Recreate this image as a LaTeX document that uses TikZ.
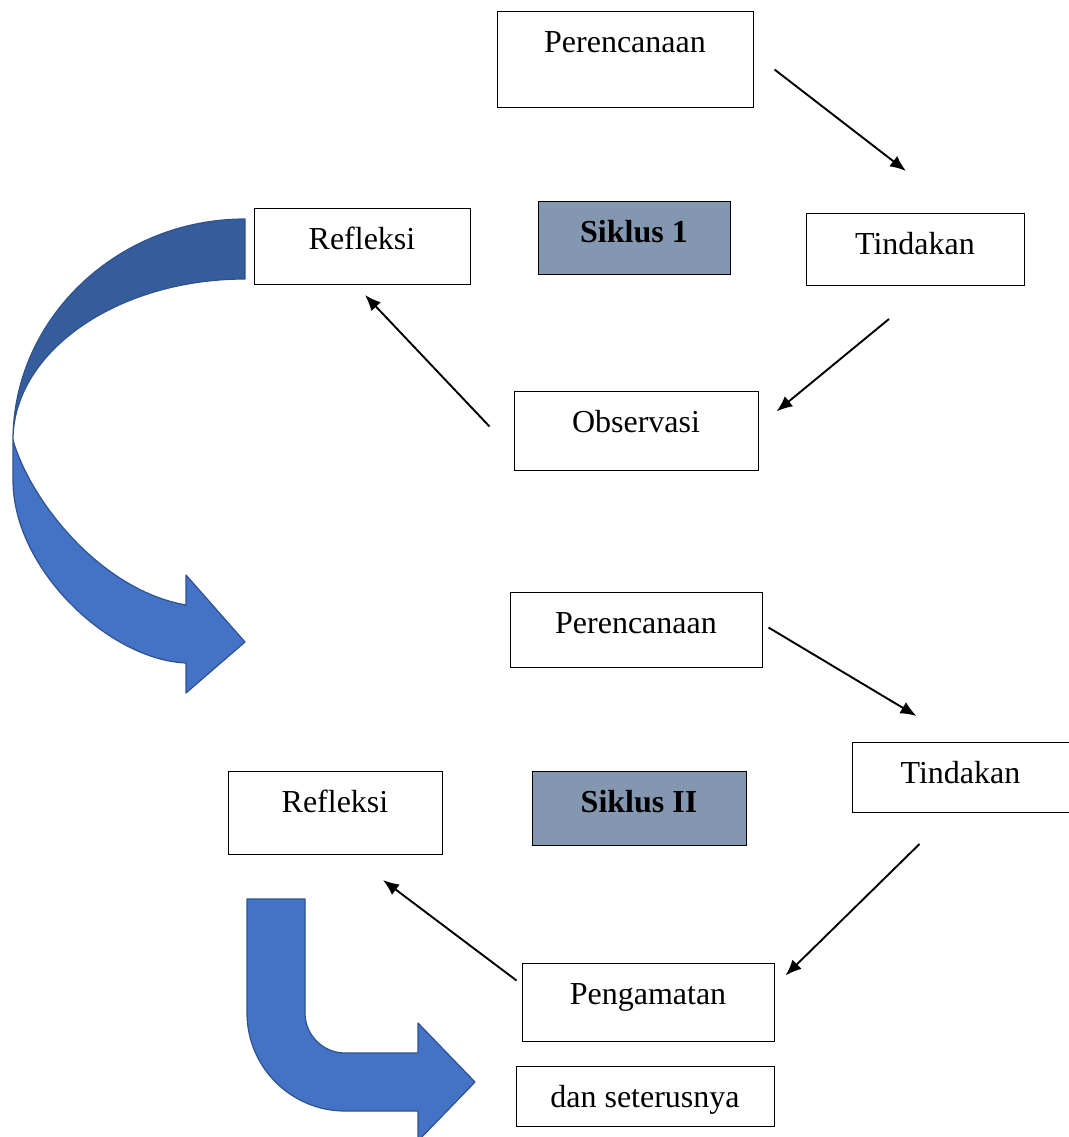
\documentclass[tikz,border=0pt]{standalone}
\usepackage{fontspec}
\setmainfont{Liberation Serif}
\usetikzlibrary{arrows.meta}
\definecolor{siklusgray}{HTML}{8497B0}
\definecolor{bluefront}{HTML}{4472C4}
\definecolor{blueback}{HTML}{355D9B}
\definecolor{blueedge}{HTML}{2F528F}
\tikzstyle{block} = [draw, rectangle, fill=white, line width=1pt, anchor=north, inner xsep=0pt, inner ysep=0pt, text height=41pt, font=\fontsize{32}{38}\selectfont]
\tikzstyle{siklus} = [block, fill=siklusgray, font=\fontsize{32}{38}\selectfont\bfseries]
\tikzstyle{link} = [-{Latex[length=16pt,width=13pt]}, line width=1.9pt]
\tikzstyle{bigarrow} = [draw=blueedge, line width=1.2pt, line join=round]

\begin{document}
\begin{tikzpicture}[x=1pt, y=-1pt]
    \useasboundingbox (0,0) rectangle (1068,1137);

    % siklus 1
    \node [block, minimum width=256pt, text depth=55pt] (plan1) at (625,11) {Perencanaan};
    \node [siklus, minimum width=192pt, text depth=32pt] (cycle1) at (634,201) {Siklus 1};
    \node [block, minimum width=216pt, text depth=35pt] (reflect1) at (362,208) {Refleksi};
    \node [block, minimum width=218pt, text depth=31pt] (act1) at (915,213) {Tindakan};
    \node [block, minimum width=244pt, text depth=38pt] (observe) at (636,391) {Observasi};

    \draw [link] ([xshift=21pt, yshift=-10pt]plan1.east) -- ([xshift=-9pt, yshift=42pt]act1.north);
    \draw [link] ([xshift=-26pt, yshift=-33pt]act1.south) -- ([xshift=18pt, yshift=19.5pt]observe.east);
    \draw [link] ([xshift=-24pt, yshift=4.5pt]observe.west) -- ([xshift=3pt, yshift=-10pt]reflect1.south);

    % curved arrow to siklus 2
    \path [bigarrow, fill=blueback] (245,219) .. controls (117,219) and (13,319) .. (13,440)
        .. controls (13,352) and (117,279) .. (245,279) -- cycle;
    \path [bigarrow, fill=bluefront] (13,440) -- (13,480) .. controls (13,570) and (110,660) .. (186,663)
        -- (186,693) -- (245,642) -- (186,575) -- (186,605)
        .. controls (100,590) and (30,500) .. (13,440) -- cycle;

    % siklus 2
    \node [block, minimum width=252pt, text depth=34pt] (plan2) at (636,592) {Perencanaan};
    \node [block, minimum width=217pt, text depth=29pt] (act2) at (960.5,742) {Tindakan};
    \node [block, minimum width=214pt, text depth=42pt] (reflect2) at (335,771) {Refleksi};
    \node [siklus, minimum width=214pt, text depth=33pt] (cycle2) at (639,771) {Siklus II};
    \node [block, minimum width=252pt, text depth=37pt] (watch) at (648,963) {Pengamatan};
    \node [block, minimum width=258pt, text depth=19pt] (next) at (645,1066) {dan seterusnya};

    \draw [link] ([xshift=6pt, yshift=2.5pt]plan2.east) -- ([xshift=-44pt, yshift=26pt]act2.north);
    \draw [link] ([xshift=-41pt, yshift=-31pt]act2.south) -- ([xshift=11pt, yshift=27pt]watch.east);
    \draw [link] ([xshift=-5pt, yshift=22pt]watch.west) -- ([xshift=48pt, yshift=-25pt]reflect2.south);

    % bent arrow
    \path [bigarrow, fill=bluefront] (247,899) -- (305,899) -- (305,1013)
        .. controls (305,1035) and (323,1053) .. (345,1053) -- (418,1053) -- (418,1023)
        -- (475,1082) -- (418,1141) -- (418,1111) -- (345,1111)
        .. controls (291,1111) and (247,1067) .. (247,1013) -- cycle;
\end{tikzpicture}
\end{document}
